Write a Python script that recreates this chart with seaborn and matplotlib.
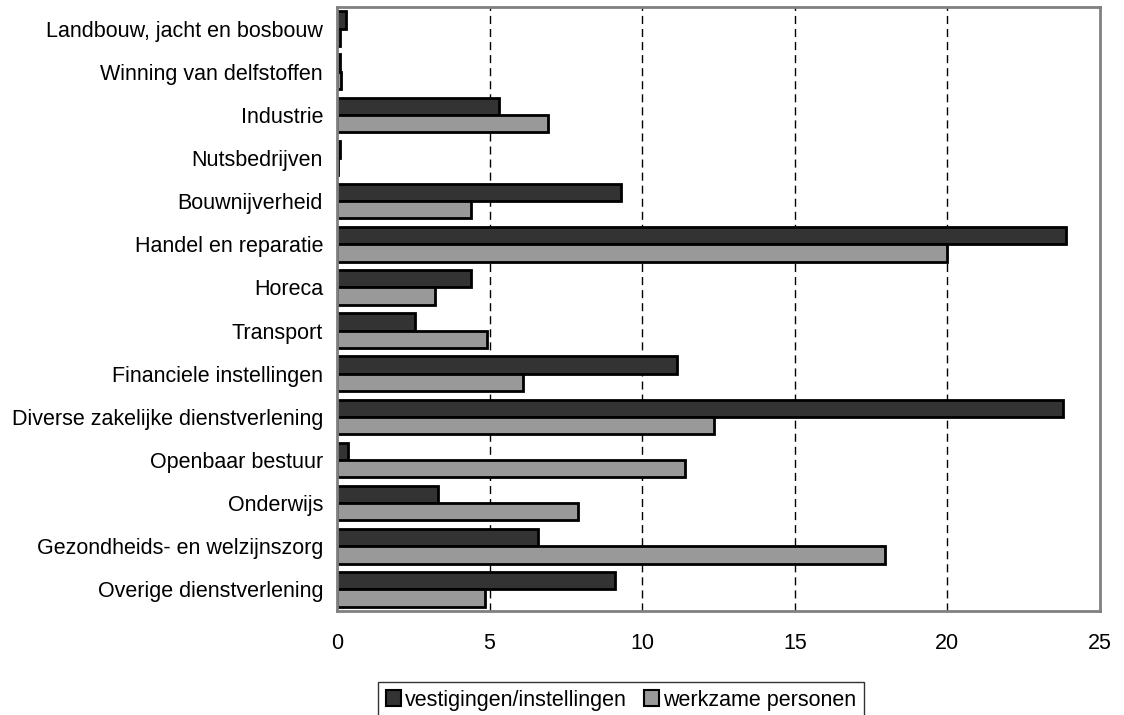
import numpy as np
import pandas as pd
import matplotlib
matplotlib.use("Agg")
import matplotlib.pyplot as plt
import seaborn as sns
from matplotlib.patches import Patch

categories = [
    "Landbouw, jacht en bosbouw",
    "Winning van delfstoffen",
    "Industrie",
    "Nutsbedrijven",
    "Bouwnijverheid",
    "Handel en reparatie",
    "Horeca",
    "Transport",
    "Financiele instellingen",
    "Diverse zakelijke dienstverlening",
    "Openbaar bestuur",
    "Onderwijs",
    "Gezondheids- en welzijnszorg",
    "Overige dienstverlening",
]
vestigingen = [0.3, 0.1, 5.3, 0.1, 9.3, 23.9, 4.4, 2.55, 11.15, 23.8, 0.35, 3.3, 6.6, 9.1]
werkzame = [0.1, 0.12, 6.9, 0.03, 4.4, 20.0, 3.2, 4.9, 6.1, 12.35, 11.4, 7.9, 17.95, 4.85]
series_names = ["vestigingen/instellingen", "werkzame personen"]
colors = ["#333333", "#999999"]
xticks = [0, 5, 10, 15, 20, 25]

df = pd.DataFrame({
    "categorie": categories * 2,
    "waarde": vestigingen + werkzame,
    "reeks": [series_names[0]] * len(categories) + [series_names[1]] * len(categories),
})

sns.set_style("white")
plt.rcParams["font.family"] = ["Liberation Sans", "DejaVu Sans"]
plt.rcParams["text.color"] = "black"
plt.rcParams["xtick.color"] = "#808080"
plt.rcParams["xtick.labelcolor"] = "black"
plt.rcParams["ytick.labelcolor"] = "black"

FS = 15.5

fig = plt.figure(figsize=(11.24, 7.15), dpi=100)
ax = fig.add_axes([0.2998, 0.1455, 0.6788, 0.8447])

sns.barplot(data=df, y="categorie", x="waarde", hue="reeks", orient="h",
            palette=colors, order=categories, hue_order=series_names,
            width=0.8, edgecolor="black", linewidth=2, ax=ax, legend=False,
            saturation=1)

ax.set_xlim(0, 25)
ax.set_ylim(len(categories) - 0.5, -0.5)
ax.set_xticks(xticks)
ax.set_xticklabels([str(t) for t in xticks], fontsize=FS)
ax.tick_params(axis="y", labelsize=FS, length=0, pad=10)
ax.tick_params(axis="x", direction="in", length=3, width=1, pad=16)
ax.set_xlabel("")
ax.set_ylabel("")
for t in xticks[1:-1]:
    ax.axvline(t, color="black", linestyle=(0, (5.8, 3.6)), linewidth=1.0, zorder=0)
for s in ["top", "right", "left", "bottom"]:
    ax.spines[s].set_color("#808080")
    ax.spines[s].set_linewidth(2)

handles = [Patch(facecolor=c, edgecolor="black", linewidth=1.5) for c in colors]
leg = fig.legend(handles, series_names, loc="upper left",
                 bbox_to_anchor=(378 / 1124, 1 - 682 / 715), ncol=2,
                 frameon=True, fancybox=False, fontsize=FS,
                 handlelength=0.7, handleheight=0.7, handletextpad=0.2,
                 columnspacing=0.8, borderpad=0.35, borderaxespad=0)
leg.get_frame().set_edgecolor("black")
leg.get_frame().set_linewidth(1)

fig.savefig("out.png", dpi=100)
